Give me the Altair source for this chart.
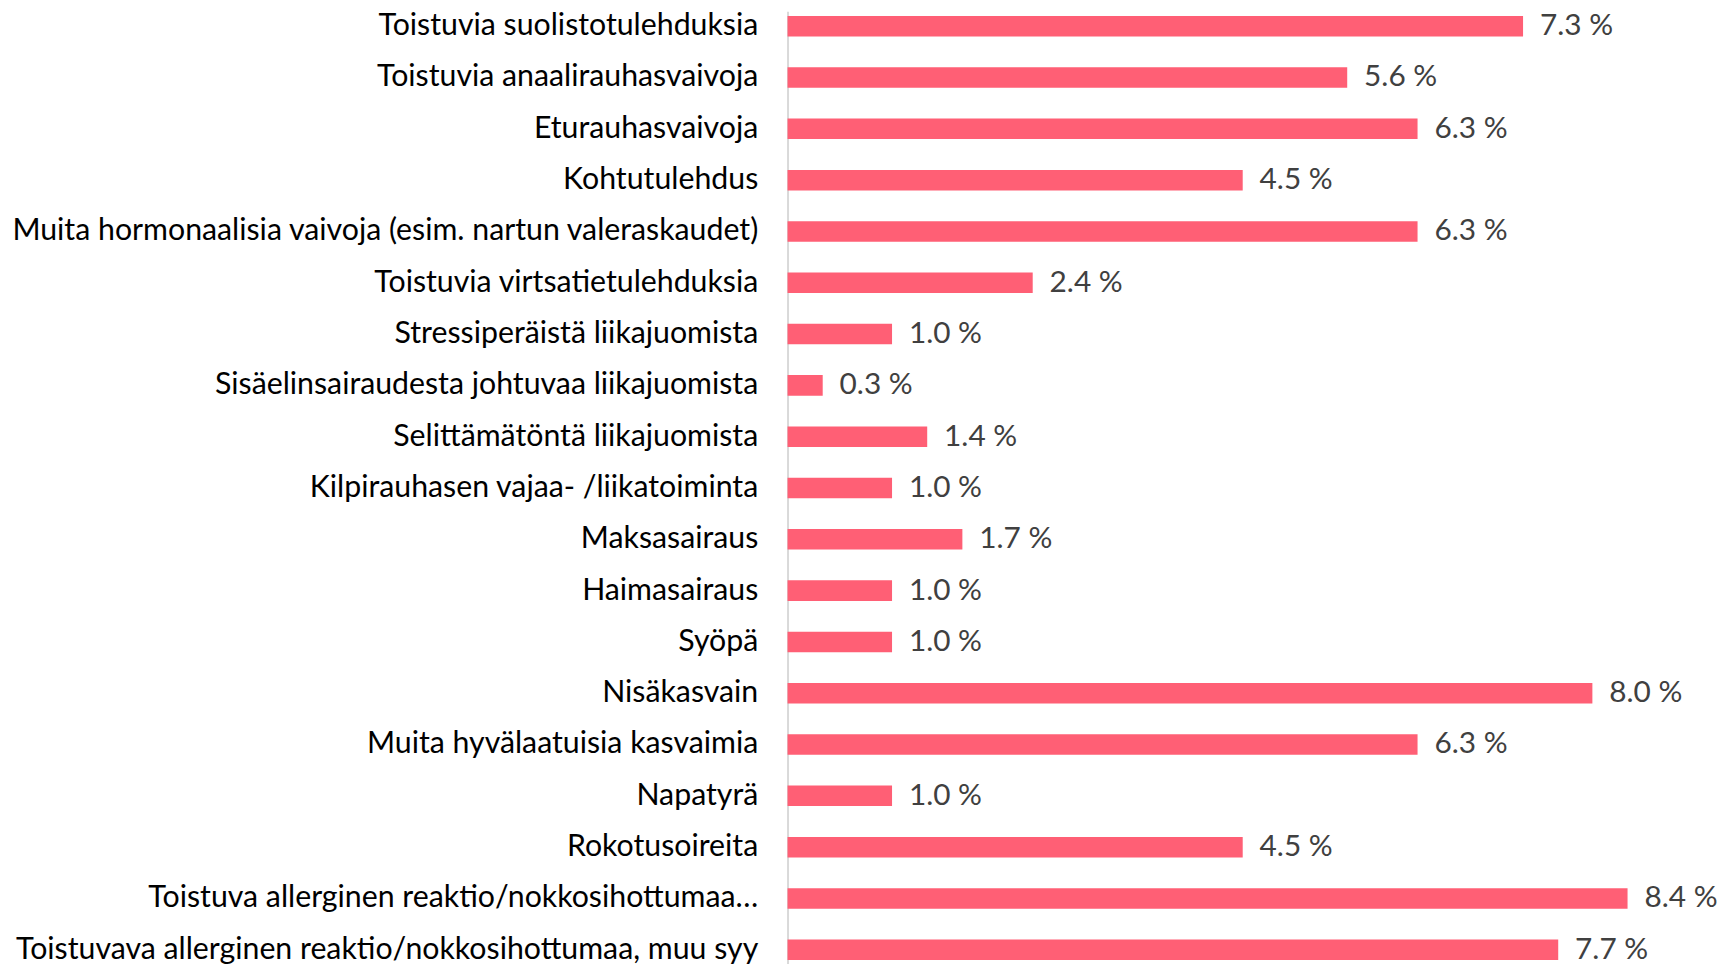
import altair as alt
import pandas as pd

categories = [
    "Toistuvia suolistotulehduksia",
    "Toistuvia anaalirauhasvaivoja",
    "Eturauhasvaivoja",
    "Kohtutulehdus",
    "Muita hormonaalisia vaivoja (esim. nartun valeraskaudet)",
    "Toistuvia virtsatietulehduksia",
    "Stressiperäistä liikajuomista",
    "Sisäelinsairaudesta johtuvaa liikajuomista",
    "Selittämätöntä liikajuomista",
    "Kilpirauhasen vajaa- /liikatoiminta",
    "Maksasairaus",
    "Haimasairaus",
    "Syöpä",
    "Nisäkasvain",
    "Muita hyvälaatuisia kasvaimia",
    "Napatyrä",
    "Rokotusoireita",
    "Toistuva allerginen reaktio/nokkosihottumaa…",
    "Toistuvava allerginen reaktio/nokkosihottumaa, muu syy",
]
values = [7.32, 5.57, 6.27, 4.53, 6.27, 2.44, 1.04, 0.35, 1.39, 1.04,
          1.74, 1.04, 1.04, 8.01, 6.27, 1.04, 4.53, 8.36, 7.67]

df = pd.DataFrame({"cat": categories, "value": values})

FONT = "Lato"

y = alt.Y("cat:N", sort=categories, title=None,
          scale=alt.Scale(paddingInner=0.6, paddingOuter=0.09),
          axis=alt.Axis(labelFont=FONT, labelFontSize=30.5, labelColor="#000000",
                        labelPadding=30, ticks=False, domainColor="#D9D9D9",
                        domainWidth=2, labelLimit=0))
x = alt.X("value:Q", title=None, scale=alt.Scale(domain=[0, 9.3], nice=False),
          axis=None)

bars = alt.Chart(df).mark_bar(color="#FF5F75").encode(x=x, y=y)
labels = alt.Chart(df).transform_calculate(
    label="format(datum.value, '.1f') + ' %'"
).mark_text(align="left", baseline="middle", dx=17, font=FONT,
            fontSize=30, color="#404040").encode(x=x, y=y, text="label:N")

chart = (bars + labels).properties(
    width=941, height=960,
    background="white",
    autosize=alt.AutoSizeParams(type="none"),
    padding={"left": 785, "top": 0, "right": 0, "bottom": 0},
).configure_view(stroke=None, strokeWidth=0)

chart.save("out.html", embed_options={"renderer": "svg", "actions": False})
